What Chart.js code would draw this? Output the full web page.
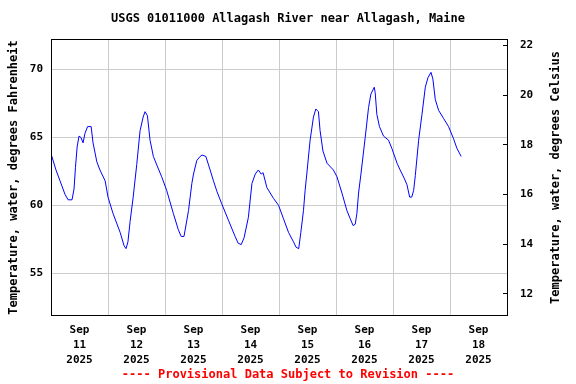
<!DOCTYPE html>
<html>
<head>
<meta charset="utf-8">
<script src="https://cdn.jsdelivr.net/npm/chart.js@4"></script>
<style>
  body { margin: 0; background: #fff; }
</style>
</head>
<body>
<canvas id="temp-chart" width="576" height="384"></canvas>
<script>
// hours since Sep 11 2025 00:00
var hoursSinceStart = [0, 2.1, 3.8, 5.9, 7.2, 8.85, 9.7, 10.3, 11.0, 11.8, 12.6, 13.5, 14.3, 15.4, 16.9, 17.7, 19.3, 20.6, 22.8,
	24.0, 26.1, 29.1, 30.8, 31.6, 32.4, 33.3, 34.6, 36.1, 37.5, 38.8, 39.6, 40.6, 41.7, 43.1, 44.7, 46.6,
	48.7, 51.5, 53.6, 54.8, 56.0, 57.9, 59.3, 60.0, 61.4, 62.8, 63.6, 65.2, 67.0, 68.4, 69.9, 71.9,
	74.7, 77.5, 78.8, 80.1, 81.3, 83.1, 84.6, 86.0, 87.3, 88.5, 89.3, 90.9, 93.7, 95.8,
	97.9, 100.0, 102.1, 103.2, 104.3, 105.2, 106.3, 107.0, 107.7, 109.1, 110.5, 111.5, 112.6, 113.3, 114.5, 116.2, 118.9,
	120.4, 122.5, 124.6, 126.0, 127.2, 128.1, 128.8, 129.5, 130.5, 132.3, 133.7, 134.7, 136.1, 136.5, 137.2, 138.3, 140.0, 142.1,
	143.5, 145.7, 147.0, 148.7, 149.9, 151.0, 151.9, 152.7, 153.4, 154.8, 156.2, 157.6, 158.7, 160.0, 160.8, 161.8, 163.2, 165.3,
	167.4, 169.5, 170.9, 172.7];

var tempF = [63.8, 62.6, 61.8, 60.8, 60.4, 60.4, 61.2, 62.8, 64.3, 65.1, 65.0, 64.6, 65.3, 65.8, 65.8, 64.6, 63.2, 62.6, 61.8,
	60.6, 59.4, 58.0, 57.0, 56.8, 57.3, 58.8, 60.6, 63.0, 65.5, 66.5, 66.9, 66.6, 64.8, 63.6, 62.9, 62.1,
	61.1, 59.4, 58.2, 57.7, 57.7, 59.6, 61.6, 62.3, 63.3, 63.6, 63.7, 63.6, 62.6, 61.8, 61.0, 60.1,
	58.9, 57.7, 57.2, 57.1, 57.6, 59.1, 61.6, 62.3, 62.6, 62.3, 62.4, 61.3, 60.5, 60.0,
	59.0, 58.0, 57.3, 56.9, 56.8, 58.0, 59.6, 61.1, 62.3, 64.8, 66.5, 67.1, 66.9, 65.5, 64.0, 63.1, 62.6,
	62.1, 60.9, 59.6, 59.0, 58.5, 58.6, 59.4, 60.9, 62.3, 65.0, 67.2, 68.2, 68.7, 68.3, 66.7, 65.8, 65.1, 64.8,
	64.2, 63.1, 62.6, 62.0, 61.5, 60.6, 60.6, 61.1, 62.2, 64.8, 66.7, 68.7, 69.4, 69.8, 69.3, 67.8, 67.0, 66.4,
	65.8, 64.9, 64.2, 63.6];

var tickMonth = "Sep";
var tickDays = ["11", "12", "13", "14", "15", "16", "17", "18"];
var tickYear = "2025";
var fahrenheitTicks = [55, 60, 65, 70];
var celsiusTicks = [12, 14, 16, 18, 20, 22];

var monoFont = "'DejaVu Sans Mono', 'Liberation Mono', monospace";

var puntos = [];
for (var i = 0; i < hoursSinceStart.length; i++) {
	puntos.push({ x: hoursSinceStart[i], y: tempF[i] });
}

// marco del area y titulo del eje derecho
var marcoPlugin = {
	id: 'marco',
	afterDraw: function(chart) {
		var ctx = chart.ctx;
		var a = chart.chartArea;
		ctx.save();
		ctx.strokeStyle = '#000';
		ctx.lineWidth = 1;
		ctx.strokeRect(Math.round(a.left) + 0.5, Math.round(a.top) + 0.5, Math.round(a.right - a.left), Math.round(a.bottom - a.top));
		ctx.translate(556, (a.top + a.bottom) / 2);
		ctx.rotate(-Math.PI / 2);
		ctx.fillStyle = '#000';
		ctx.font = "bold 12px " + monoFont;
		ctx.textAlign = 'center';
		ctx.textBaseline = 'middle';
		ctx.fillText("Temperature, water, degrees Celsius", 0, 0);
		ctx.restore();
	}
};

var grafica = new Chart(document.getElementById('temp-chart'), {
	type: 'line',
	data: {
		datasets: [{
			data: puntos,
			borderColor: '#0000ff',
			borderWidth: 1,
			pointRadius: 0,
			fill: false,
			tension: 0,
			yAxisID: 'y'
		}]
	},
	options: {
		responsive: false,
		animation: false,
		layout: { padding: 0 },
		plugins: {
			legend: { display: false },
			tooltip: { enabled: false },
			title: {
				display: true,
				text: "USGS 01011000 Allagash River near Allagash, Maine",
				color: '#000',
				font: { family: monoFont, size: 12, weight: 'bold' },
				padding: { top: 12, bottom: 13 }
			},
			subtitle: {
				display: true,
				position: 'bottom',
				text: "---- Provisional Data Subject to Revision ----",
				color: '#ff0000',
				font: { family: monoFont, size: 12, weight: 'bold' },
				padding: { top: 4, bottom: 2 }
			}
		},
		scales: {
			x: {
				type: 'linear',
				min: 0,
				max: 192,
				afterBuildTicks: function(scale) {
					var t = [];
					for (var h = 12; h <= 180; h += 12) t.push({ value: h });
					scale.ticks = t;
				},
				afterFit: function(scale) { scale.height = 48; },
				border: { display: false },
				grid: {
					drawTicks: false,
					color: function(ctx) {
						return (ctx.tick && ctx.tick.value % 24 === 0) ? '#cccccc' : 'rgba(0,0,0,0)';
					}
				},
				ticks: {
					autoSkip: false,
					maxRotation: 0,
					padding: 7,
					color: '#000',
					font: { family: monoFont, size: 11, weight: 'bold', lineHeight: 1.36 },
					callback: function(value) {
						if (value % 24 !== 12) return '';
						var d = (value - 12) / 24;
						return [tickMonth, tickDays[d], tickYear];
					}
				}
			},
			y: {
				position: 'left',
				min: 51.86,
				max: 72.23,
				afterBuildTicks: function(scale) {
					scale.ticks = fahrenheitTicks.map(function(v) { return { value: v }; });
				},
				afterFit: function(scale) { scale.width = 51; },
				border: { display: false },
				grid: { drawTicks: false, color: '#cccccc' },
				ticks: {
					padding: 8,
					color: '#000',
					font: { family: monoFont, size: 11, weight: 'bold' }
				},
				title: {
					display: true,
					text: "Temperature, water, degrees Fahrenheit",
					color: '#000',
					font: { family: monoFont, size: 12, weight: 'bold' },
					padding: { top: 7, bottom: 0 }
				}
			},
			y2: {
				position: 'right',
				min: 11.13,
				max: 22.24,
				afterBuildTicks: function(scale) {
					scale.ticks = celsiusTicks.map(function(v) { return { value: v }; });
				},
				afterFit: function(scale) { scale.width = 69; },
				border: { display: false },
				grid: { drawOnChartArea: false, drawTicks: true, tickLength: -4, color: '#000' },
				ticks: {
					padding: 17,
					color: '#000',
					font: { family: monoFont, size: 11, weight: 'bold' }
				}
			}
		}
	},
	plugins: [marcoPlugin]
});
</script>
</body>
</html>
